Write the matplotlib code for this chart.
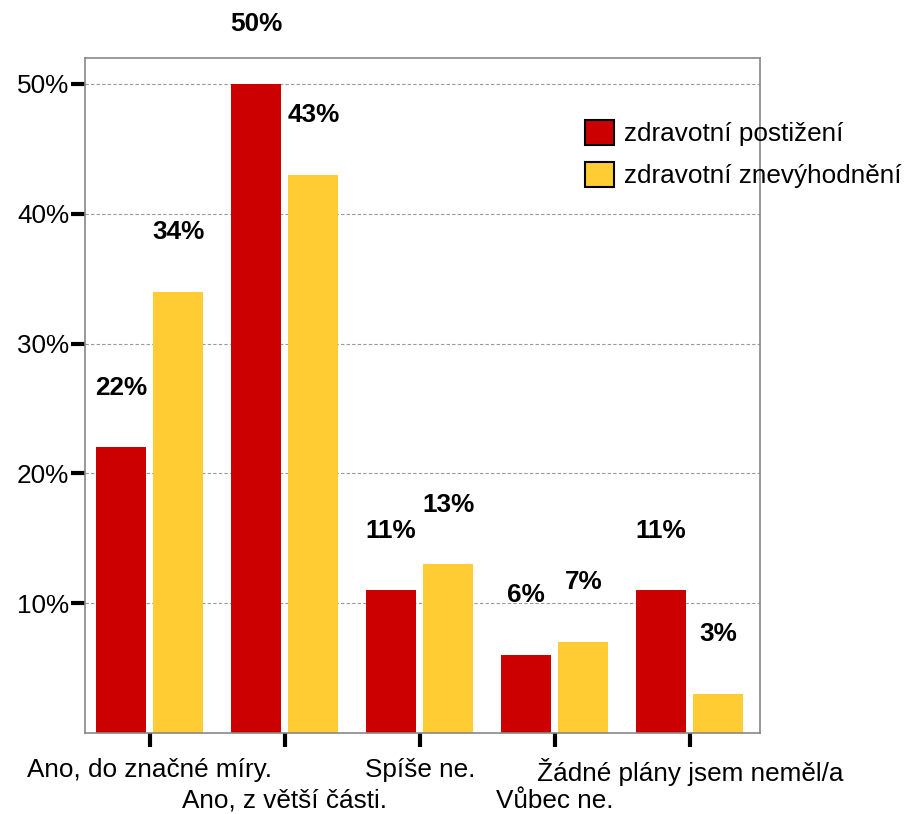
import numpy as np
import matplotlib.pyplot as plt
from matplotlib import rcParams
rcParams['font.family'] = ['Liberation Sans', 'DejaVu Sans']

categories = ["Ano, do značné míry.", "Ano, z větší části.", "Spíše ne.",
              "Vůbec ne.", "Žádné plány jsem neměl/a"]
postizeni = [22, 50, 11, 6, 11]
znevyhodneni = [34, 43, 13, 7, 3]
series_names = ["zdravotní postižení", "zdravotní znevýhodnění"]
yticks = [10, 20, 30, 40, 50]

fontsize = 18.8
fig = plt.figure(figsize=(9.06, 8.14), dpi=100)
ax = fig.add_axes([0.0938, 0.0995, 0.7451, 0.8292])

x = np.arange(1, len(categories) + 1)
width = 0.37
off = 0.212
b1 = ax.bar(x - off, postizeni, width, color="#CC0000", label=series_names[0], zorder=2)
b2 = ax.bar(x + off, znevyhodneni, width, color="#FFCC33", label=series_names[1], zorder=2)

for bars, vals in [(b1, postizeni), (b2, znevyhodneni)]:
	for r, v in zip(bars, vals):
		ax.text(r.get_x() + r.get_width() / 2, v + 4.6, "{}%".format(v),
			ha="center", va="center", fontsize=fontsize, fontweight="bold", clip_on=False)

ax.set_xlim(0.52, 5.52)
ax.set_ylim(0, 52)
ax.set_yticks(yticks)
ax.set_yticklabels(["{}%".format(t) for t in yticks], fontsize=fontsize)
ax.set_xticks(x)
ax.set_xticklabels(categories, fontsize=fontsize)
ax.tick_params(axis="both", direction="out", length=10, width=3, color="black")
ax.tick_params(axis="y", pad=1.5)
# stagger the category labels on two rows
for i, t in enumerate(ax.xaxis.get_major_ticks()):
	t.set_pad(8 if i % 2 == 0 else 30)
ax.yaxis.grid(True, linestyle=(0, (3, 2)), color="#999999", linewidth=0.8, zorder=0)
ax.set_axisbelow(True)
for s in ax.spines.values():
	s.set_color("#888888")
	s.set_linewidth(1.2)

leg = ax.legend(loc="upper left", bbox_to_anchor=(0.646, 0.853), bbox_transform=fig.transFigure,
	frameon=False, fontsize=fontsize, handlelength=1.1, handleheight=1.1,
	handletextpad=0.4, labelspacing=0.6, borderpad=0, borderaxespad=0)
for h in leg.legend_handles:
	h.set_edgecolor("black")
	h.set_linewidth(1.5)

plt.savefig("out.png", dpi=100)
